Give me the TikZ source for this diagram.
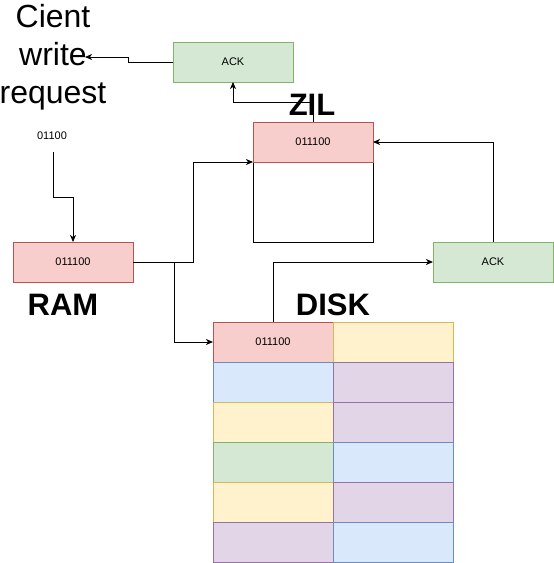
\documentclass[tikz,border=0pt]{standalone}
\usepackage{fontspec}
\setmainfont{Liberation Sans}
\usetikzlibrary{arrows.meta}
\definecolor{rfill}{HTML}{F8CECC}\definecolor{rdraw}{HTML}{B85450}
\definecolor{gfill}{HTML}{D5E8D4}\definecolor{gdraw}{HTML}{82B366}
\definecolor{yfill}{HTML}{FFF2CC}\definecolor{ydraw}{HTML}{D6B656}
\definecolor{bfill}{HTML}{DAE8FC}\definecolor{bdraw}{HTML}{6C8EBF}
\definecolor{pfill}{HTML}{E1D5E7}\definecolor{pdraw}{HTML}{9673A6}
\tikzset{
  cell/.style={draw, line width=1pt, minimum width=120pt, minimum height=40pt, inner sep=0pt, outer sep=0pt, anchor=north west, font=\fontsize{11}{13}\selectfont},
  red/.style={cell, fill=rfill, draw=rdraw},
  grn/.style={cell, fill=gfill, draw=gdraw},
  yel/.style={cell, fill=yfill, draw=ydraw},
  blu/.style={cell, fill=bfill, draw=bdraw},
  pur/.style={cell, fill=pfill, draw=pdraw},
  wht/.style={cell, fill=white, draw=black, minimum height=80pt},
  big/.style={font=\bfseries\fontsize{31}{37}\selectfont, inner sep=0pt, anchor=base},
  conn/.style={draw=black, line width=1pt, -{Stealth[length=7pt,width=6pt,inset=2pt]}},
  plain/.style={draw=black, line width=1pt},
}
\begin{document}
\begin{tikzpicture}[x=1pt,y=-1pt]
\useasboundingbox (0,0) rectangle (554,563);
% client text
\node[align=center, inner sep=0pt, anchor=north, font=\fontsize{32}{38}\selectfont] (client) at (53,4) {Cient\\write\\request};
\coordinate (req) at (85,57);
% ACK top
\node[grn] (ack1) at (173,42) {ACK};
% ZIL
\node[wht] (zilw) at (253,162) {};
\node[red] (zil) at (253,122) {011100};
\node[big] (zillab) at (312,115) {ZIL};
% input text
\node[inner sep=0pt, font=\fontsize{11}{13}\selectfont] (in) at (52,136) {01100};
\coordinate (ins) at (53,152);
% RAM
\node[red] (ram) at (13,242) {011100};
\node[big] (ramlab) at (63,315) {RAM};
% ACK right
\node[grn] (ack2) at (433,242) {ACK};
% DISK
\node[big] (disklab) at (333,315) {DISK};
\node[red] (d11) at (213,322) {011100};
\node[yel] (d12) at (333,322) {};
\node[blu] (d21) at (213,362) {};
\node[pur] (d22) at (333,362) {};
\node[yel] (d31) at (213,402) {};
\node[pur] (d32) at (333,402) {};
\node[grn] (d41) at (213,442) {};
\node[blu] (d42) at (333,442) {};
\node[yel] (d51) at (213,482) {};
\node[pur] (d52) at (333,482) {};
\node[pur] (d61) at (213,522) {};
\node[blu] (d62) at (333,522) {};
% connectors
\draw[conn] (ack1.west) -- (128,62) -- (128,57) -- (req);
\draw[conn] (zil.north) -- (313,102) -- (233,102) -- (ack1.south);
\draw[conn] (ins) -- (53,197) -- (73,197) -- (ram.north);
\draw[conn] (ram.east) -- (193,262) -- (193,162) -- (zil.south west);
\draw[conn] (174,262) -- (174,342) -- (d11.west);
\draw[conn] (d11.north) -- (273,262) -- (ack2.west);
\draw[conn] (ack2.north) -- (493,142) -- (zil.east);
\end{tikzpicture}
\end{document}
